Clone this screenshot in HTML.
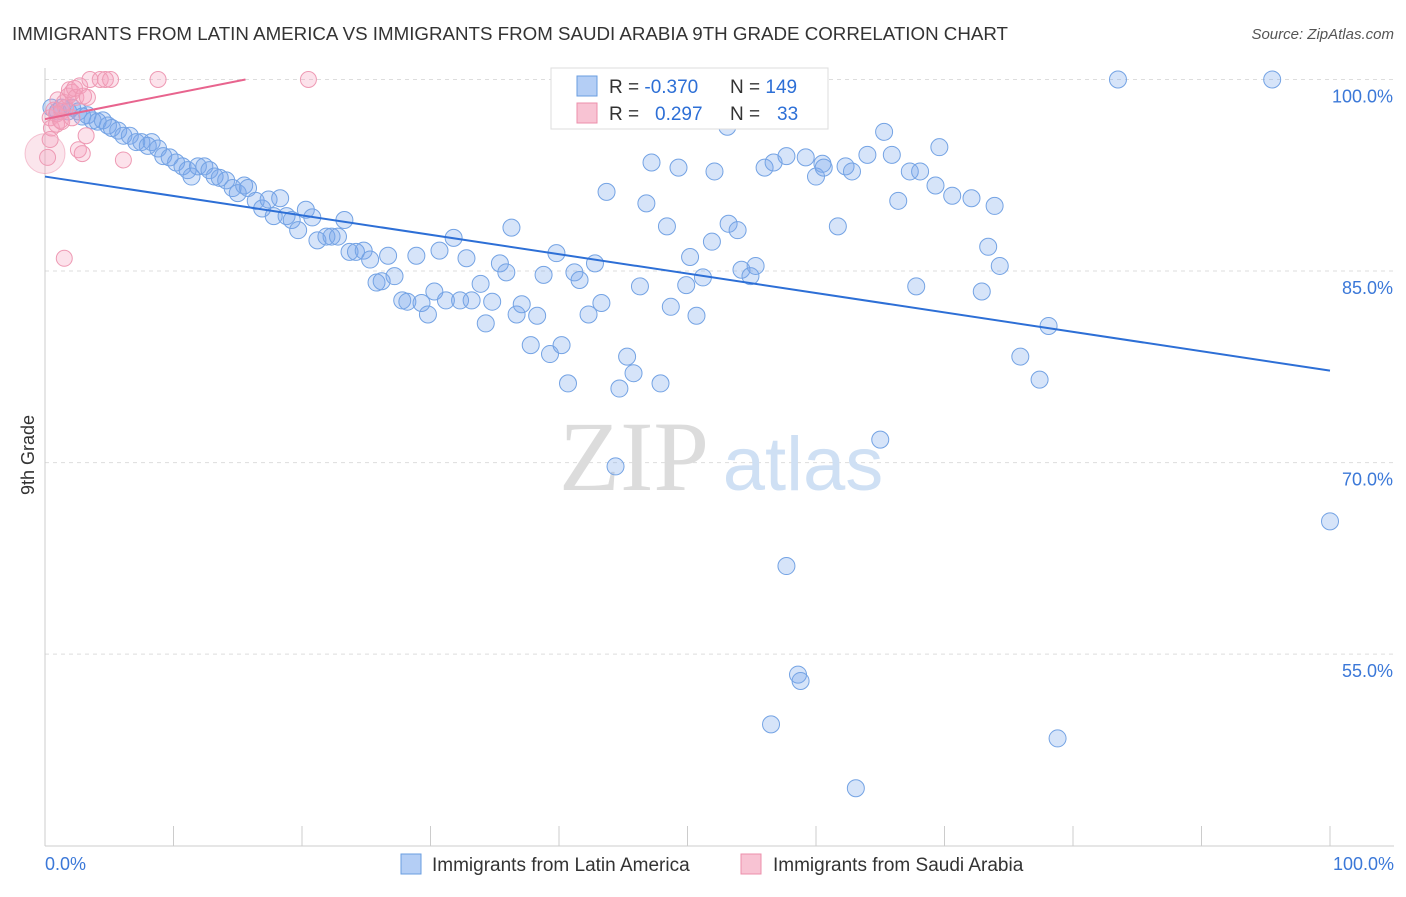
<!DOCTYPE html>
<html><head><meta charset="utf-8"><style>
body{margin:0;background:#fff;font-family:"Liberation Sans",sans-serif}
</style></head><body>
<svg id="chart" width="1406" height="892" xmlns="http://www.w3.org/2000/svg" font-family="Liberation Sans, sans-serif">
<text x="12" y="40" font-size="18" fill="#333" textLength="996" lengthAdjust="spacingAndGlyphs">IMMIGRANTS FROM LATIN AMERICA VS IMMIGRANTS FROM SAUDI ARABIA 9TH GRADE CORRELATION CHART</text>
<text x="1394" y="39" font-size="15" fill="#555" font-style="italic" text-anchor="end">Source: ZipAtlas.com</text>
<g id="grid"></g>
<g id="axes"></g>
<g><text x="634" y="490" font-size="100" fill="#dcdcdc" style="font-family:'Liberation Serif',serif" text-anchor="middle">ZIP</text><text x="803" y="490" font-size="76" fill="#cfe0f4" style="font-family:'Liberation Sans',sans-serif" text-anchor="middle">atlas</text></g>
<g id="points"></g>
<g id="lines"></g>
<g>
<rect x="551" y="68" width="277" height="61" fill="#fff" stroke="#ddd"/>
<rect x="577" y="76" width="20" height="20" fill="#b4cef5" stroke="#6a9ee0"/>
<rect x="577" y="103" width="20" height="20" fill="#f8c3d3" stroke="#ec8fab"/>
<text x="609" y="93" font-size="19" fill="#333">R = <tspan fill="#2d6fd6">-0.370</tspan><tspan x="730">N = </tspan><tspan fill="#2d6fd6">149</tspan></text>
<text x="609" y="120" font-size="19" fill="#333">R = <tspan x="655" fill="#2d6fd6">0.297</tspan><tspan x="730">N = </tspan><tspan x="777" fill="#2d6fd6">33</tspan></text>
</g>
<g>
<rect x="401" y="854" width="20" height="20" fill="#b4cef5" stroke="#6a9ee0"/>
<text x="432" y="871" font-size="19" fill="#333">Immigrants from Latin America</text>
<rect x="741" y="854" width="20" height="20" fill="#f8c3d3" stroke="#ec8fab"/>
<text x="773" y="871" font-size="19" fill="#333">Immigrants from Saudi Arabia</text>
</g>
<text transform="translate(34,455) rotate(-90)" font-size="18" fill="#333" text-anchor="middle">9th Grade</text>
</svg>
<script>
const blueX=[0.5,1.0,1.3,1.8,2.1,2.6,2.9,3.3,3.7,4.1,4.5,4.9,5.2,5.7,6.1,6.6,7.1,7.5,8.0,8.3,8.8,9.2,9.7,10.2,10.7,11.1,11.4,11.9,12.4,12.8,13.2,13.6,14.1,14.6,15.0,15.5,15.8,16.4,16.9,17.4,17.8,18.3,18.8,19.2,19.7,20.3,20.8,21.2,21.9,22.3,22.8,23.3,23.7,24.2,24.8,25.3,25.8,26.2,26.7,27.2,27.8,28.2,28.9,29.3,29.8,30.3,30.7,31.2,31.8,32.3,32.8,33.2,33.9,34.3,34.8,35.4,35.9,36.3,36.7,37.1,37.8,38.3,38.8,39.3,39.8,40.2,40.7,41.2,41.6,42.3,42.8,43.3,43.7,44.4,44.7,45.3,45.8,46.3,46.8,47.2,47.9,48.4,48.7,49.3,49.9,50.2,50.7,51.2,51.9,52.1,53.1,53.2,53.9,54.2,54.9,55.3,56.0,56.5,56.7,57.7,57.7,58.6,58.8,59.2,60.0,60.5,60.6,61.7,62.3,62.8,63.1,64.0,65.0,65.3,65.9,66.4,67.3,67.8,68.1,69.3,69.6,70.6,72.1,72.9,73.4,73.9,74.3,75.9,77.4,78.1,78.8,83.5,95.5,100];
const blueY=[97.8,97.5,97.8,97.5,97.8,97.5,97.1,97.2,96.8,96.7,96.8,96.4,96.2,96.0,95.6,95.6,95.1,95.1,94.8,95.1,94.6,94.0,93.9,93.5,93.2,92.9,92.4,93.2,93.2,92.9,92.4,92.3,92.1,91.5,91.1,91.7,91.5,90.5,89.9,90.6,89.3,90.7,89.3,89.0,88.2,89.8,89.2,87.4,87.7,87.7,87.7,89.0,86.5,86.5,86.6,85.9,84.1,84.2,86.2,84.6,82.7,82.6,86.2,82.5,81.6,83.4,86.6,82.7,87.6,82.7,86.0,82.7,84.0,80.9,82.6,85.6,84.9,88.4,81.6,82.4,79.2,81.5,84.7,78.5,86.4,79.2,76.2,84.9,84.3,81.6,85.6,82.5,91.2,69.7,75.8,78.3,77.0,83.8,90.3,93.5,76.2,88.5,82.2,93.1,83.9,86.1,81.5,84.5,87.3,92.8,96.3,88.7,88.2,85.1,84.6,85.4,93.1,49.5,93.5,61.9,94.0,53.4,52.9,93.9,92.4,93.4,93.1,88.5,93.2,92.8,44.5,94.1,71.8,95.9,94.1,90.5,92.8,83.8,92.8,91.7,94.7,90.9,90.7,83.4,86.9,90.1,85.4,78.3,76.5,80.7,48.4,100,100,65.4];
const pinkX=[0.2,0.4,0.5,0.7,0.9,1.0,1.2,1.3,1.5,1.6,1.8,1.9,2.1,2.3,2.4,2.6,2.7,2.9,3.0,3.2,3.3,3.5,4.3,4.7,5.1,6.1,8.8,20.5,1.5,0.4,0.9,1.3,2.1];
const pinkY=[93.9,97.0,96.2,97.6,96.5,98.4,96.8,97.5,98.2,97.8,98.7,99.2,99.0,99.3,98.6,94.5,99.5,94.2,98.7,95.6,98.6,100,100,100,100,93.7,100,100,86.0,95.3,97.3,96.7,97.0];
const blueTrend=[92.4,77.2];
const pinkTrend=[96.9,100,15.6];
const yTicks=[100,85,70,55];
const yTickLabels=["100.0%","85.0%","70.0%","55.0%"];
const xTickLabels=["0.0%","100.0%"];

const NS="http://www.w3.org/2000/svg";
const X=v=>45+v*12.85;
const Y=v=>79.5+(100-v)*12.77;
function mk(tag,attrs,parent){const e=document.createElementNS(NS,tag);for(const k in attrs)e.setAttribute(k,attrs[k]);parent.appendChild(e);return e;}
const grid=document.getElementById('grid'),axes=document.getElementById('axes');
yTicks.forEach((t,i)=>{
  const l=mk('line',{x1:45,x2:1394,y1:Y(t),y2:Y(t),stroke:'#ddd','stroke-dasharray':'4,4'},grid);
  
  
  const tx=mk('text',{x:1393,y:Y(t)+23,'font-size':18,fill:'#3b78d8','text-anchor':'end'},axes);
  tx.textContent=yTickLabels[i];
  
  
});
const xa=mk('line',{x1:45,x2:1394,y1:846,y2:846,stroke:'#ccc'},axes);


const ya=mk('line',{x1:45,x2:45,y1:68,y2:846,stroke:'#ccc'},axes);


for(let i=0;i<=10;i++){
  const tk=mk('line',{x1:X(i*10),x2:X(i*10),y1:826,y2:846,stroke:'#ccc'},axes);
  
  
}
[[0,'start',45],[1,'end',1394]].forEach(([i,a,x])=>{
  const t=mk('text',{x:x,y:870,'font-size':18,fill:'#3b78d8','text-anchor':a},axes);
  t.textContent=xTickLabels[i];
  
  
});
const pts=document.getElementById('points');


const big=mk('circle',{cx:X(0),cy:Y(94.2),r:20,fill:'rgba(240,150,180,0.25)',stroke:'rgba(236,143,171,0.5)'},pts);


blueX.forEach((x,i)=>{
  const c=mk('circle',{cx:X(x),cy:Y(blueY[i]),r:8.5,fill:'rgba(120,165,235,0.3)',stroke:'#74a3e4','stroke-width':1},pts);
  
  
});
pinkX.forEach((x,i)=>{
  const c=mk('circle',{cx:X(x),cy:Y(pinkY[i]),r:8,fill:'rgba(245,160,190,0.3)',stroke:'#ee9ab4','stroke-width':1},pts);
  
  
});
const lines=document.getElementById('lines');
const bl=mk('line',{x1:X(0),y1:Y(blueTrend[0]),x2:X(100),y2:Y(blueTrend[1]),stroke:'#2d6fd6','stroke-width':2},lines);


const pl=mk('line',{x1:X(0),y1:Y(pinkTrend[0]),x2:X(pinkTrend[2]),y2:Y(pinkTrend[1]),stroke:'#e8648e','stroke-width':2},lines);


</script>
</body></html>
